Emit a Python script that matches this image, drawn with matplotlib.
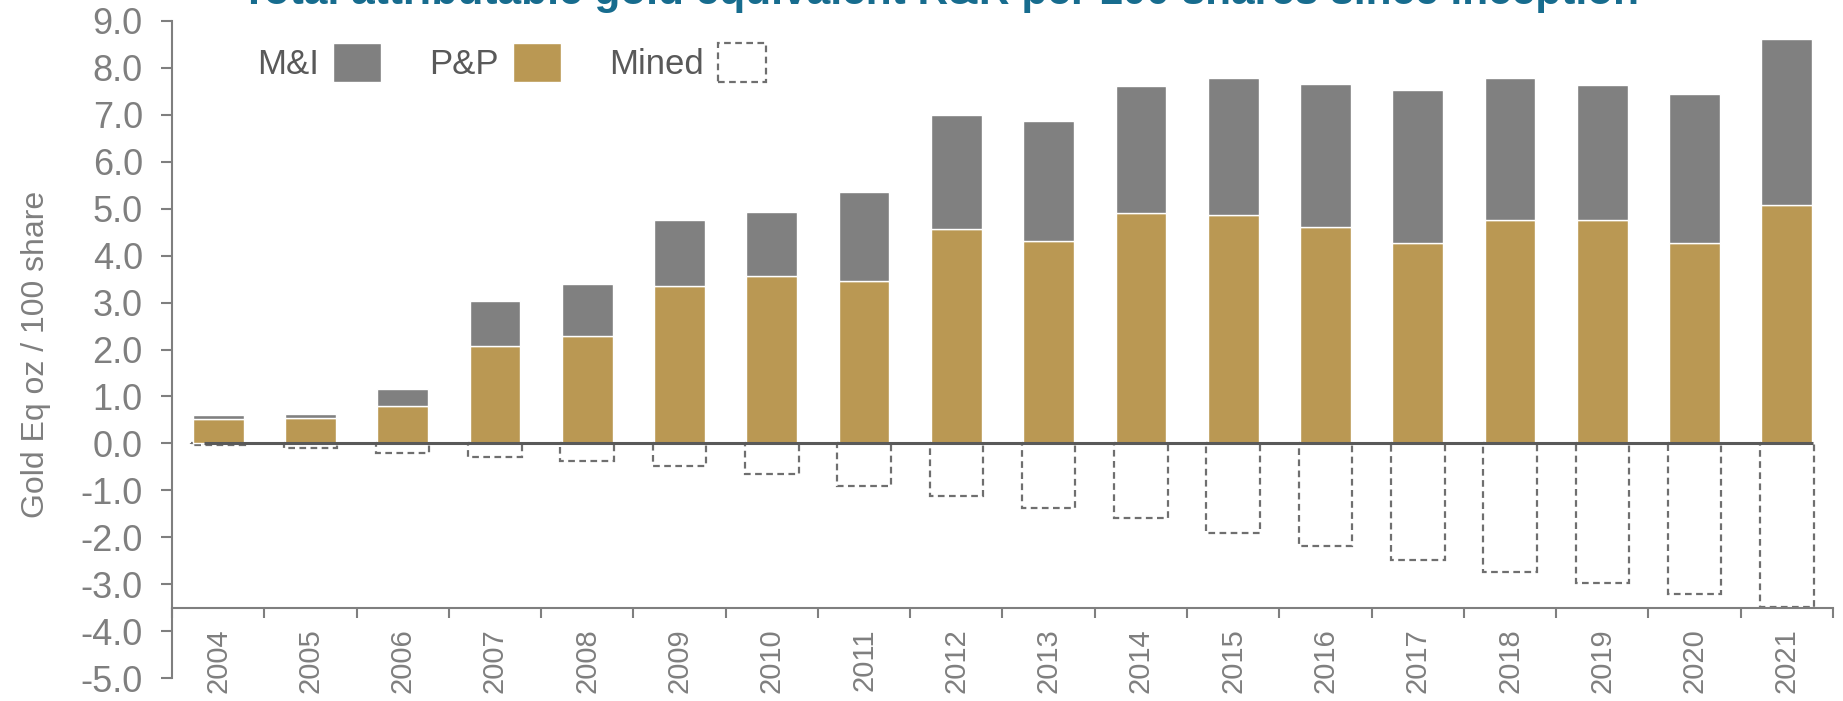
import matplotlib
matplotlib.use("agg")
import matplotlib.pyplot as plt
import numpy as np

plt.rcParams["font.family"] = ["Liberation Sans", "DejaVu Sans"]

years = ["2004", "2005", "2006", "2007", "2008", "2009", "2010", "2011", "2012",
         "2013", "2014", "2015", "2016", "2017", "2018", "2019", "2020", "2021"]
pp = [0.52, 0.54, 0.79, 2.08, 2.28, 3.36, 3.56, 3.46, 4.56,
      4.31, 4.91, 4.86, 4.61, 4.28, 4.76, 4.76, 4.28, 5.08]
mi = [0.08, 0.08, 0.36, 0.95, 1.12, 1.40, 1.37, 1.90, 2.43,
      2.55, 2.70, 2.93, 3.05, 3.26, 3.03, 2.88, 3.16, 3.54]
mined = [-0.03, -0.10, -0.20, -0.30, -0.37, -0.48, -0.65, -0.90, -1.13,
         -1.38, -1.60, -1.90, -2.18, -2.48, -2.75, -2.98, -3.20, -3.48]

GREY = "#808080"
GOLD = "#BA9853"
TEXT = "#7f7f7f"
TITLE = "#176C8E"

fig = plt.figure(figsize=(18.43, 7.01), dpi=100, facecolor="white")
ax = fig.add_axes([172 / 1843, 23 / 701, 1661 / 1843, 657 / 701])

x = np.arange(len(years))

# --- bars ---
b_mined = ax.bar(x, mined, width=0.58, facecolor="none", edgecolor="#6f6f6f",
                 linestyle=(0, (3, 2)), linewidth=1.6, zorder=2, label="Mined")
b_pp = ax.bar(x, pp, width=0.55, color=GOLD, edgecolor="white", linewidth=1,
              zorder=3, label="P&P")
b_mi = ax.bar(x, mi, bottom=pp, width=0.55, color=GREY, edgecolor="white",
              linewidth=1, zorder=3, label="M&I")
ax.hlines(0, -0.15, len(years) - 0.72, color="#595959", linewidth=2.2, zorder=4)

# --- axes ---
ax.set_xlim(-0.5, len(years) - 0.5)
ax.set_ylim(-5, 9)
ax.set_yticks(np.arange(-5, 10, 1))
ax.set_yticklabels([f"{v:.1f}" for v in np.arange(-5, 10, 1)])
ax.set_xticks(x)
ax.set_xticklabels(years)
ax.set_xticks(np.arange(-0.5, len(years), 1), minor=True)

ax.spines["top"].set_visible(False)
ax.spines["right"].set_visible(False)
ax.spines["bottom"].set_position(("data", -3.5))
for s in ("left", "bottom"):
    ax.spines[s].set_color(TEXT)
    ax.spines[s].set_linewidth(1.5)

ax.tick_params(axis="y", labelsize=26, colors=TEXT, length=8, width=1.5, pad=13)
ax.tick_params(axis="x", which="major", labelsize=21, labelcolor=TEXT, length=0,
               pad=15, labelrotation=90)
ax.tick_params(axis="x", which="minor", length=7, width=1.5, color=TEXT)

ax.set_ylabel("Gold Eq oz / 100 share", fontsize=23, color=TEXT)
ax.yaxis.set_label_coords(-0.073, 0.493)

# --- legend ---
leg = ax.legend(handles=[b_mi, b_pp, b_mined], loc="upper left",
                bbox_to_anchor=(257 / 1843, 1 - 43 / 701),
                bbox_transform=fig.transFigure, ncol=3, frameon=False,
                markerfirst=False, fontsize=25, handlelength=1.38,
                handleheight=1.35, handletextpad=0.4, columnspacing=1.4,
                borderpad=0, borderaxespad=0)
for t in leg.get_texts():
    t.set_color("#595959")

# --- title (cut by the top edge) ---
fig.text(940 / 1843, 1 - 4 / 701,
         "Total attributable gold equivalent R&R per 100 shares since inception",
         ha="center", va="baseline", fontsize=30.5, fontweight="bold", color=TITLE)

fig.savefig("out.png", dpi=100)
